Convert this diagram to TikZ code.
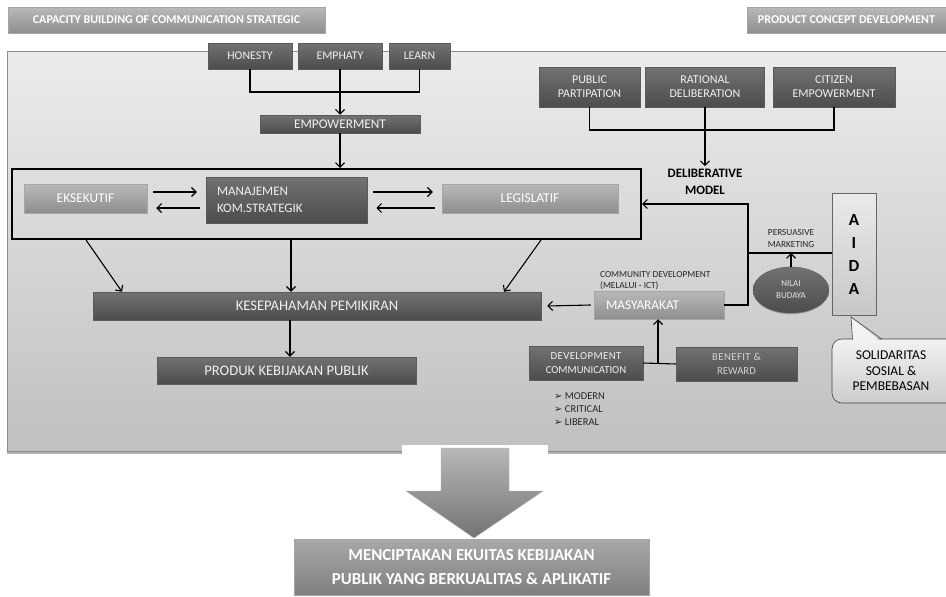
\documentclass[tikz,border=0pt]{standalone}
\usepackage{fontspec}
\setmainfont{Carlito}
\newfontfamily\dejavu{DejaVu Sans}
\usetikzlibrary{arrows.meta,shapes.geometric,shadows}
\definecolor{dtop}{HTML}{727272}
\definecolor{dbot}{HTML}{4C4C4C}
\definecolor{ltop}{HTML}{B9B9B9}
\definecolor{lbot}{HTML}{8E8E8E}
\definecolor{ptop}{HTML}{ECECEC}
\definecolor{pbot}{HTML}{C0C0C0}
\newcommand{\fsz}[2]{\fontsize{#1}{#2}\selectfont}
\newcommand{\bul}{{\dejavu\fsz{10}{11}➢}}
\tikzset{
  dbox/.style={draw=dtop!80!black, top color=dtop, bottom color=dbot, text=white!94!black,
    align=center, inner sep=0pt, line width=0.5pt,
    drop shadow={shadow xshift=0pt, shadow yshift=-1.2pt, fill=black, opacity=0.25}},
  lbox/.style={draw=ltop!90!black, top color=ltop, bottom color=lbot, text=white,
    align=center, inner sep=0pt, line width=0.5pt,
    drop shadow={shadow xshift=0pt, shadow yshift=-1.2pt, fill=black, opacity=0.25}},
  titlebox/.style={lbox, font=\bfseries\fsz{12}{14}},
  arr/.style={-{Straight Barb[length=4.5pt,width=9pt]}, line width=1.1pt},
  ln/.style={line width=1.1pt},
}
\begin{document}
\begin{tikzpicture}[x=1pt,y=-1pt]
\useasboundingbox (0,0) rectangle (946,597);
\fill[white] (0,0) rectangle (946,597);
% panel
\fill[black,opacity=0.3] (7,452) rectangle (946,453.5);
\path[top color=ptop, bottom color=pbot, draw=gray!90] (7,51) rectangle (947,451);
% titles
\node[titlebox, minimum width=317pt, minimum height=26pt] (cap) at (166.5,20) {CAPACITY BUILDING OF COMMUNICATION STRATEGIC};
\node[titlebox, minimum width=199pt, minimum height=26pt] (pcd) at (846.5,20) {PRODUCT CONCEPT DEVELOPMENT};
% top left group
\node[dbox, font=\fsz{11.8}{13}, minimum width=84pt, minimum height=26pt] (hon) at (250,56) {HONESTY};
\node[dbox, font=\fsz{11.8}{13}, minimum width=84pt, minimum height=26pt] (emp) at (340,56) {EMPHATY};
\node[dbox, font=\fsz{11.8}{13}, minimum width=61pt, minimum height=26pt] (lrn) at (419.5,56) {LEARN};
\node[dbox, font=\fsz{13.3}{15}, minimum width=160pt, minimum height=18pt] (empw) at (340,124) {EMPOWERMENT};
\coordinate (j1) at (340,92);
\draw[ln] (hon.south) |- (j1) -| (lrn.south);
\draw[arr] (emp.south) -- (empw.north);
% top right group
\node[dbox, font=\fsz{12}{14}, minimum width=101pt, minimum height=40pt] (pub) at (589.5,87) {PUBLIC\\PARTIPATION};
\node[dbox, font=\fsz{12}{14}, minimum width=119pt, minimum height=40pt] (rat) at (705,87) {RATIONAL\\DELIBERATION};
\node[dbox, font=\fsz{12}{14}, minimum width=122pt, minimum height=40pt] (cit) at (834,87) {CITIZEN\\EMPOWERMENT};
\node[font=\bfseries\fsz{12.9}{17}, align=center, inner sep=0pt] (delib) at (705,182) {DELIBERATIVE\\MODEL};
\coordinate (j2) at (705,130);
\draw[ln] (pub.south) |- (j2) -| (cit.south);
\draw[arr] (rat.south) -- ([yshift=3pt]delib.north);
% frame group
\node[draw, line width=2pt, minimum width=629pt, minimum height=70pt, inner sep=0pt] (frame) at (326.5,204) {};
\draw[arr] (empw.south) -- (frame.north -| empw.south);
\node[lbox, font=\fsz{13.4}{15}, minimum width=123pt, minimum height=29pt] (eks) at (85.5,198.5) {EKSEKUTIF};
\node[dbox, font=\fsz{13}{17}, minimum width=161pt, minimum height=46pt, text width=139pt, inner xsep=11pt, align=left] (man) at (286.5,200) {MANAJEMEN\\KOM.STRATEGIK};
\node[lbox, font=\fsz{13.5}{15}, minimum width=176pt, minimum height=29pt] (leg) at (530,198.5) {LEGISLATIF};
\draw[arr] ([xshift=6pt,yshift=6.5pt]eks.east) -- ([xshift=-9pt,yshift=6.5pt]eks.east -| man.west);
\draw[arr] ([xshift=-6pt,yshift=-9.5pt]eks.east -| man.west) -- ([xshift=9pt,yshift=-9.5pt]eks.east);
\draw[arr] ([xshift=6pt,yshift=6.5pt]leg.west -| man.east) -- ([xshift=-9pt,yshift=6.5pt]leg.west);
\draw[arr] ([xshift=-7pt,yshift=-9.5pt]leg.west) -- ([xshift=9pt,yshift=-9.5pt]leg.west -| man.east);
% middle
\node[dbox, font=\fsz{14.6}{16}, minimum width=448pt, minimum height=28pt] (kes) at (317,306) {KESEPAHAMAN PEMIKIRAN};
\node[dbox, font=\fsz{14.6}{16}, minimum width=259pt, minimum height=27pt] (prk) at (286.5,370.5) {PRODUK KEBIJAKAN PUBLIK};
\draw[arr] (frame.south -| 86,0) -- (kes.north -| 122,0);
\draw[arr] (frame.south -| 291,0) -- (kes.north -| 291,0);
\draw[arr] (frame.south -| 541,0) -- (kes.north -| 504,0);
\draw[arr] (kes.south -| 290,0) -- (prk.north -| 290,0);
% masyarakat group
\node[lbox, font=\fsz{13.3}{16}, minimum width=130pt, minimum height=28pt, text width=118pt, inner xsep=6pt, align=left] (mas) at (659,305) {\hspace*{6pt}MASYARAKAT};
\node[font=\fsz{9.3}{11}, align=left, inner sep=0pt, anchor=south west, text=black!85] (cdev) at (600,290) {COMMUNITY DEVELOPMENT\\(MELALUI - ICT)};
\draw[arr] ([xshift=-3pt]mas.west) -- ([xshift=6pt]kes.east);
\node[dbox, font=\fsz{10.7}{14}, minimum width=114pt, minimum height=34pt] (dev) at (586,363) {\addfontfeature{LetterSpace=4}DEVELOPMENT\\COMMUNICATION};
\node[dbox, font=\fsz{10.7}{14}, minimum width=121pt, minimum height=34pt, text=white!82!black] (ben) at (736.5,364) {\addfontfeature{LetterSpace=4}BENEFIT \&\\REWARD};
\draw[ln] (dev.east) -- (ben.west);
\coordinate (c3) at (658,363);
\draw[arr] (c3) -- (c3 |- mas.south);
\node[font=\fsz{10.5}{13}, align=left, inner sep=0pt, anchor=west, text=black!85] (bl) at (554,409) {\bul\ MODERN\\\bul\ CRITICAL\\\bul\ LIBERAL};
% right side
\node[draw=gray!80!black, top color=white!92!black, bottom color=white!78!black, minimum width=44pt, minimum height=122pt, inner sep=0pt,
  font=\bfseries\fsz{17}{23}, align=center,
  drop shadow={shadow xshift=0.8pt, shadow yshift=-1.2pt, fill=black, opacity=0.25}] (aida) at (854,254) {A\\I\\D\\A};
\coordinate (c1) at (748,204);
\coordinate (c2) at (748,253);
\draw[arr] (mas.east) -| (c1) -- (c1 -| frame.east);
\draw[ln] (c2) -- (c2 -| aida.west);
\node[font=\fsz{9.3}{12}, align=center, inner sep=0pt, text=black!85] (pers) at (791,239) {PERSUASIVE\\MARKETING};
\node[ellipse, draw=dtop!80!black, top color=dtop, bottom color=dbot, text=white!90!black, minimum width=76pt, minimum height=46pt, inner sep=0pt,
  font=\fsz{9}{12}, align=center,
  drop shadow={shadow xshift=0pt, shadow yshift=-1.2pt, fill=black, opacity=0.25}] (nil) at (791,290) {NILAI\\BUDAYA};
\draw[arr] (nil.north) -- (nil.north |- c2);
% callout
\path[draw=gray!50!black, line width=0.6pt, top color=white!95!black, bottom color=white!80!black, rounded corners=10pt]
  (832,339) rectangle (960,403);
\fill[white!95!black] (852.5,341) -- (851,317) -- (880,341) -- cycle;
\draw[gray!50!black, line width=0.6pt] (852.5,339.3) -- (851,317) -- (882,339.3);
\node[font=\fsz{13.5}{15.5}, align=center, inner sep=0pt] (sol) at (891,371) {SOLIDARITAS\\SOSIAL \&\\PEMBEBASAN};
% big arrow
\fill[white] (402,445) rectangle (548,540);
\path[top color=white!72!black, bottom color=white!45!black, draw=gray!60, line width=0.4pt]
  (441,448) -- (509,448) -- (509,491) -- (543,491) -- (474,538) -- (406,491) -- (441,491) -- cycle;
\node[draw=gray!70, top color=white!66!black, bottom color=white!50!black, minimum width=355pt, minimum height=56pt, inner sep=0pt,
  text=white, font=\bfseries\fsz{16.8}{24}, align=center] (mbox) at (471.5,567) {MENCIPTAKAN EKUITAS KEBIJAKAN\\PUBLIK YANG BERKUALITAS \& APLIKATIF};
\end{tikzpicture}
\end{document}
